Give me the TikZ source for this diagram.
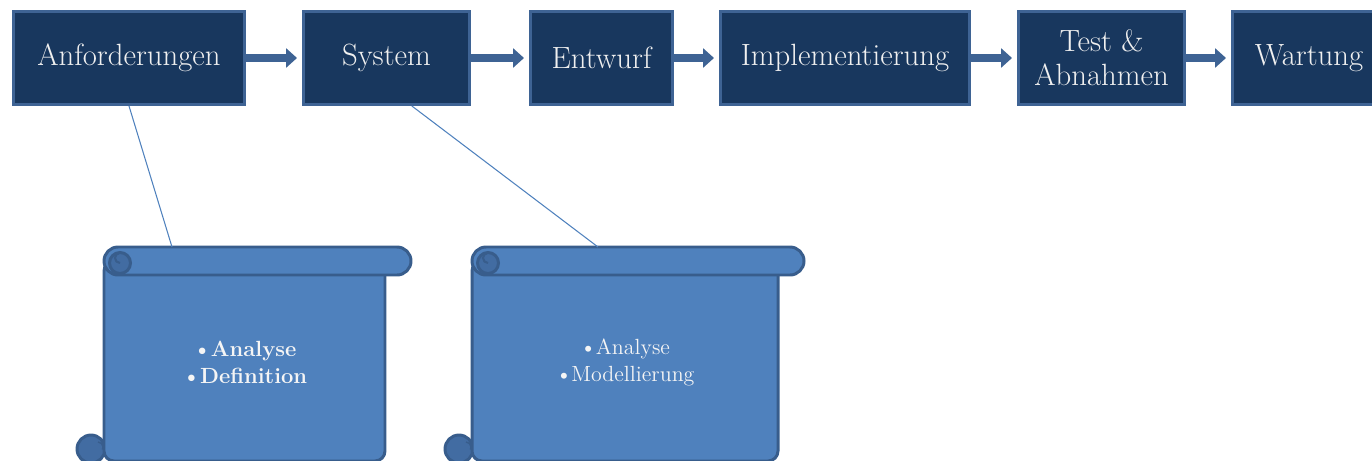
\documentclass[tikz,border=0pt]{standalone}
\usepackage{tikz}
\usetikzlibrary{arrows.meta,calc}

\definecolor{boxfill}{RGB}{24,55,94}
\definecolor{boxline}{RGB}{62,99,148}
\definecolor{scrollfill}{RGB}{79,129,189}
\definecolor{scrollline}{RGB}{56,93,140}
\definecolor{scrolldark}{RGB}{66,108,162}
\definecolor{linkcol}{RGB}{79,129,189}

% scroll: #1 left edge, #2 right edge of the sheet, #3 text
\newcommand{\drawscroll}[3]{%
  \filldraw[line width=1.7pt, draw=scrollline, fill=scrolldark] (#1-13,449) circle (0.28cm);
  \draw[line width=0.8pt, scrollline] (#1-6,442) arc (90:-30:0.1cm);
  \filldraw[line width=1.7pt, draw=scrollline, fill=scrollfill, rounded corners=0.2cm]
    (#1,261) rectangle (#2,461);
  \filldraw[line width=1.7pt, draw=scrollline, fill=scrollfill, rounded corners=0.28cm]
    (#1,247) rectangle (#2+26,275);
  \filldraw[line width=1.7pt, draw=scrollline, fill=scrolldark] (#1+16,263) circle (0.21cm);
  \draw[line width=1.2pt, scrollline] (#1+16,263) arc (270:100:0.1cm);
  \node[scrolltext] at ({(#1+#2)/2},362) {#3};
}

\begin{document}
\begin{tikzpicture}[x=0.02cm, y=-0.02cm]
\tikzstyle{phase} = [draw=boxline, line width=1.7pt, fill=boxfill,
  text=white!94!black, align=center, font=\fontsize{17.5}{19.5}\selectfont,
  minimum height=1.86cm, inner sep=0pt]
\tikzstyle{flow} = [draw=boxline, line width=0.15cm,
  -{Triangle[length=0.22cm, width=0.38cm]}, shorten >=0.1cm]
\tikzstyle{link} = [draw=linkcol, line width=0.6pt]
\tikzstyle{scrolltext} = [text=white!96!black, align=center,
  font=\fontsize{12.5}{15.3}\selectfont]

\useasboundingbox (0,0) rectangle (1372,460);
\clip (0,0) rectangle (1372,460);

\node[phase, minimum width=4.62cm] (anf) at (129,58) {Anforderungen};
\node[phase, minimum width=3.32cm] (sys) at (386.5,58) {System};
\node[phase, minimum width=2.84cm] (ent) at (601.5,58) {Entwurf};
\node[phase, minimum width=4.98cm] (imp) at (845,58) {Implementierung};
\node[phase, minimum width=3.32cm] (tst) at (1101.5,58) {Test \&\\Abnahmen};
\node[phase, minimum width=3.06cm] (war) at (1309,58) {Wartung};

\foreach \from/\to in {anf/sys, sys/ent, ent/imp, imp/tst, tst/war}
\draw [flow] (\from) -- (\to);

\drawscroll{104}{385}{\textbf{\textbullet\kern-0.5pt Analyse}\\\textbf{\textbullet\kern-0.5pt Definition}}
\drawscroll{472}{778}{\textbullet\kern-0.5pt Analyse\\\textbullet\kern-0.5pt Modellierung}

\coordinate (anftop) at (172,247);
\coordinate (systop) at (598,247);
\draw [link] (anf.south) -- (anftop);
\draw [link] ($(sys.south)!0.3!(sys.south east)$) -- (systop);
\end{tikzpicture}
\end{document}
